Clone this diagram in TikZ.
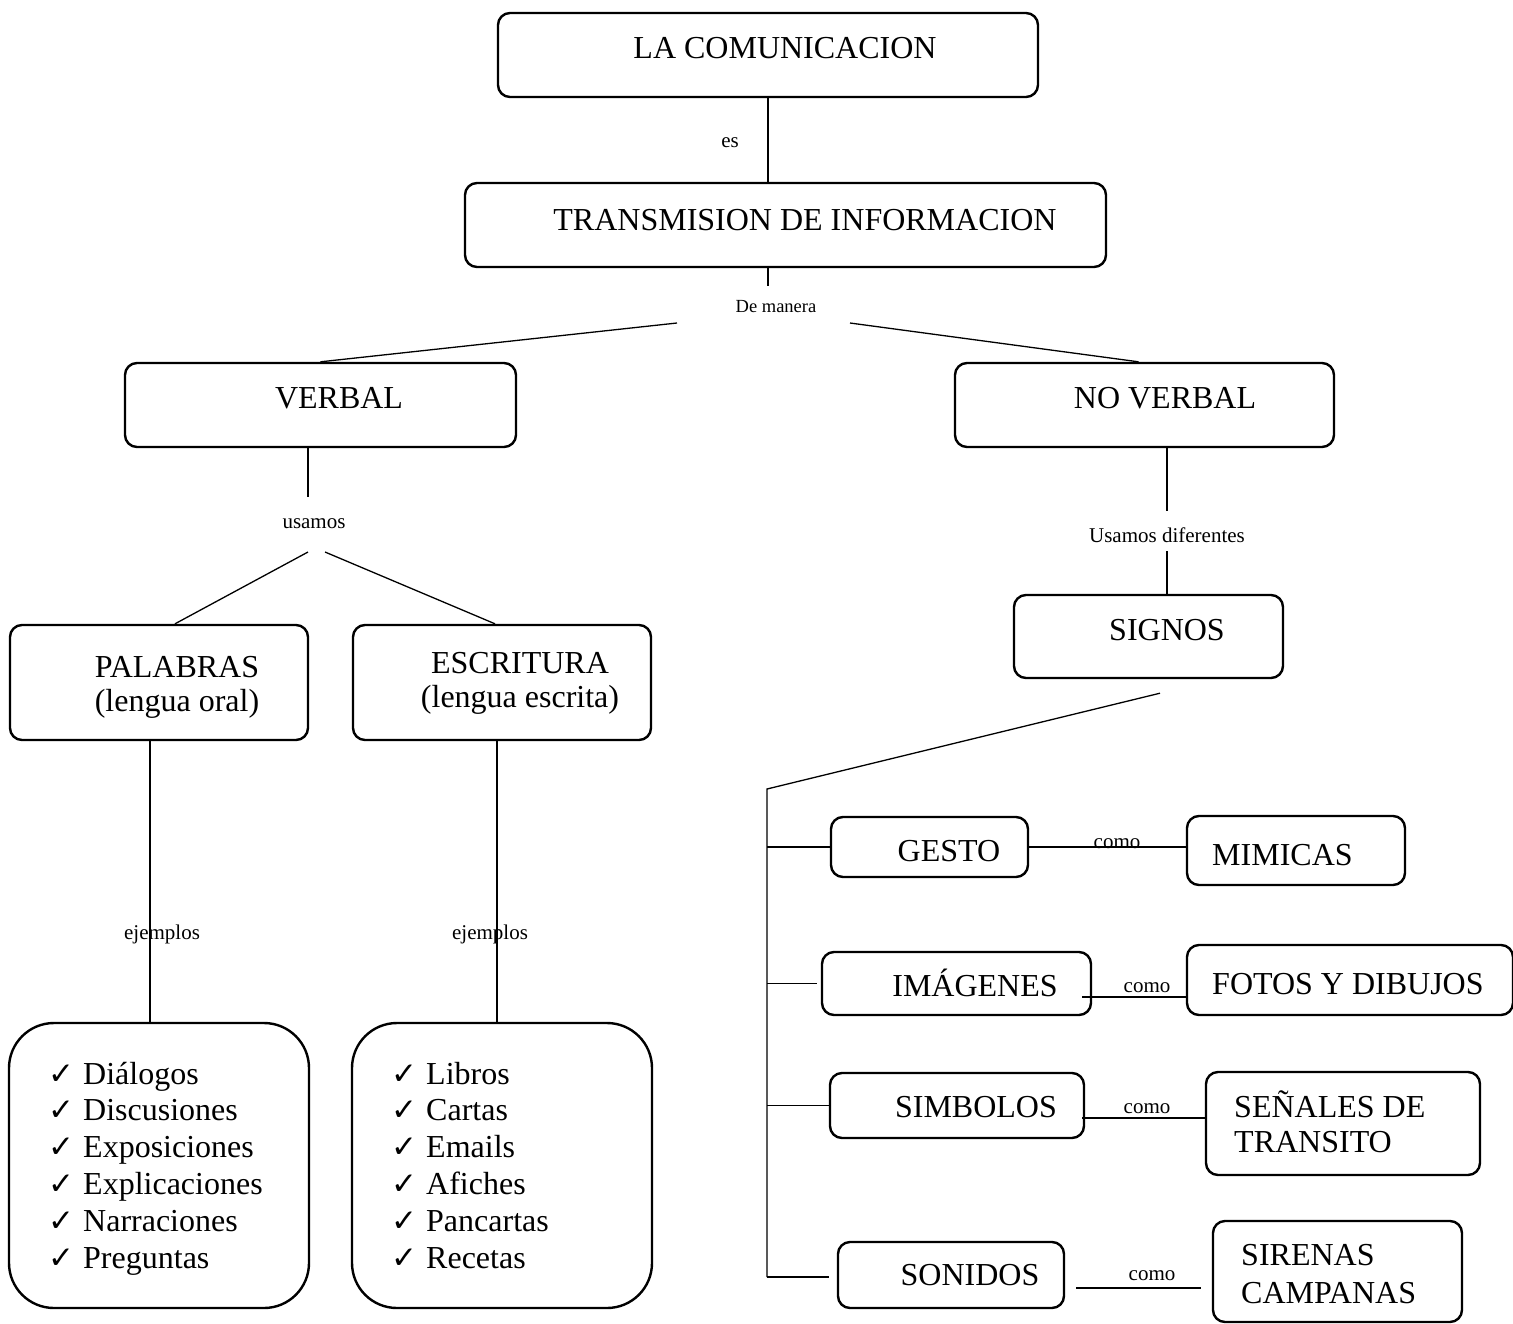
\documentclass[tikz,border=0pt]{standalone}
\usepackage{fontspec}
\setmainfont{Liberation Serif}
\newfontfamily\chkfont{DejaVu Sans}
\usetikzlibrary{positioning}
\usetikzlibrary{calc}
\usetikzlibrary{fit}

\tikzset{
  box/.style={draw, line width=2.4pt, rounded corners=12pt, inner sep=0pt},
  listbox/.style={draw, line width=2.4pt, rounded corners=45pt, inner sep=0pt},
  txt/.style={inner sep=0pt, anchor=base, font=\fontsize{32}{35}\selectfont},
  lbl/.style={inner sep=0pt, anchor=base, font=\fontsize{21}{24}\selectfont},
  conn/.style={line width=1.3pt},
}
\newcommand{\chk}{\makebox[35pt][l]{\chkfont\fontsize{31}{31}\selectfont ✓}}

\begin{document}
\begin{tikzpicture}[x=1pt, y=-1pt]
    \useasboundingbox (0,0) rectangle (1513,1323);

    % top of the map
    \node[box, fit={(498,13) (1038,97)}] (com) {};
    \node[txt] (com-t) at (785,58) {LA COMUNICACION};
    \node[box, fit={(465,183) (1106,267)}] (trans) {};
    \node[txt] (trans-t) at (805,230) {TRANSMISION DE INFORMACION};
    \draw[conn] (com.south) -- (com.south |- trans.north);
    \node[lbl] (es) at (730,147) {es};

    \draw[conn] (trans.south -| com.south) -- ++(0,18);
    \node[lbl, font=\fontsize{18.5}{20}\selectfont] (demanera) at (776,312) {De manera};
    \coordinate (dm-l) at (677,323);
    \coordinate (dm-r) at (850,323);

    % verbal / no verbal
    \node[box, fit={(125,363) (516,447)}] (verbal) {};
    \node[txt] (verbal-t) at (339,408) {VERBAL};
    \node[box, fit={(955,363) (1334,447)}] (noverbal) {};
    \node[txt] (noverbal-t) at (1165,408) {NO VERBAL};
    \draw[conn] (dm-l) -- (verbal.north);
    \draw[conn] (dm-r) -- ([xshift=-6pt]noverbal.north);

    % verbal branch
    \node[lbl] (usamos) at (314,528) {usamos};
    \coordinate (us-top) at (308,497);
    \coordinate (us-l) at (308,552);
    \coordinate (us-r) at (325,552);
    \draw[conn] (verbal.south -| us-top) -- (us-top);

    \node[box, fit={(10,625) (308,740)}] (palabras) {};
    \node[txt] (pal-t1) at (177,677) {PALABRAS};
    \node[txt] (pal-t2) at (177,711) {(lengua oral)};
    \node[box, fit={(353,625) (651,740)}] (escritura) {};
    \node[txt] (esc-t1) at (520,673) {ESCRITURA};
    \node[txt] (esc-t2) at (520,707) {(lengua escrita)};
    \draw[conn] (us-l) -- ([xshift=16pt]palabras.north);
    \draw[conn] (us-r) -- ([xshift=-7pt]escritura.north);

    \node[listbox, fit={(9,1023) (309,1308)}] (pal-list) {};
    \node[listbox, fit={(352,1023) (652,1308)}] (esc-list) {};
    \draw[conn] ([xshift=-9pt]palabras.south) -- ([xshift=-9pt]pal-list.north);
    \draw[conn] ([xshift=-5pt]escritura.south) -- ([xshift=-5pt]esc-list.north);
    \node[lbl] (ej-l) at (162,939) {ejemplos};
    \node[lbl] (ej-r) at (490,939) {ejemplos};

    \foreach \w [count=\i] in {Diálogos,Discusiones,Exposiciones,Explicaciones,Narraciones,Preguntas}
        \node[txt, anchor=base west] (pal-\i) at (48,{1084+36.8*(\i-1)}) {\chk\w};
    \foreach \w [count=\i] in {Libros,Cartas,Emails,Afiches,Pancartas,Recetas}
        \node[txt, anchor=base west] (esc-\i) at (391,{1084+36.8*(\i-1)}) {\chk\w};

    % no verbal branch
    \node[lbl] (usdif) at (1167,542) {Usamos diferentes};
    \draw[conn] (noverbal.south -| usdif) -- ++(0,63);
    \node[box, fit={(1014,595) (1283,678)}] (signos) {};
    \node[txt] (signos-t) at (1167,640) {SIGNOS};
    \draw[conn] (signos.north -| usdif) -- ++(0,-43);

    \coordinate (br-top) at (767,789);
    \coordinate (br-bot) at (767,1277);
    \draw[conn] ([xshift=11.5pt,yshift=-14pt]signos.south) -- (br-top) -- (br-bot);

    % kinds of signs
    \node[box, fit={(831,817) (1028,877)}] (gesto) {};
    \node[txt] (gesto-t) at (949,861) {GESTO};
    \node[box, fit={(1187,816) (1405,885)}] (mim) {};
    \node[txt, anchor=base west] (mim-t) at (1212,865) {MIMICAS};
    \draw[conn] (br-top |- gesto.west) -- (gesto.west);
    \draw[conn] (gesto.east) -- (gesto.east -| mim.west);
    \node[lbl] (como-1) at (1117,848) {como};

    \node[box, fit={(822,952) (1091,1015)}] (img) {};
    \node[txt] (img-t) at (975,996) {IMÁGENES};
    \node[box, fit={(1187,945) (1513,1015)}] (fotos) {};
    \node[txt, anchor=base west] (fotos-t) at (1212,994) {FOTOS Y DIBUJOS};
    \draw[conn] (br-top |- img.west) -- ([xshift=-4pt]img.west);
    \draw[conn] ([xshift=-10pt,yshift=-13.5pt]img.east) -- ++(106,0);
    \node[lbl] (como-2) at (1147,992) {como};

    \node[box, fit={(830,1073) (1084,1138)}] (sim) {};
    \node[txt] (sim-t) at (976,1117) {SIMBOLOS};
    \node[box, fit={(1206,1072) (1480,1175)}] (sen) {};
    \node[txt, anchor=base west] (sen-t1) at (1234,1117) {SEÑALES DE};
    \node[txt, anchor=base west] (sen-t2) at (1234,1152) {TRANSITO};
    \draw[conn] (br-top |- sim.west) -- (sim.west);
    \draw[conn] ([xshift=-3pt,yshift=-12.5pt]sim.east) -- ++(125,0);
    \node[lbl] (como-3) at (1147,1113) {como};

    \node[box, fit={(838,1242) (1064,1308)}] (son) {};
    \node[txt] (son-t) at (970,1285) {SONIDOS};
    \node[box, fit={(1213,1221) (1462,1322)}] (sir) {};
    \node[txt, anchor=base west] (sir-t1) at (1241,1265) {SIRENAS};
    \node[txt, anchor=base west] (sir-t2) at (1241,1303) {CAMPANAS};
    \draw[conn] (br-bot) -- ([xshift=-8pt]son.west |- br-bot);
    \draw[conn] ([xshift=11pt,yshift=-13pt]son.east) -- ++(125,0);
    \node[lbl] (como-4) at (1152,1280) {como};
\end{tikzpicture}
\end{document}
